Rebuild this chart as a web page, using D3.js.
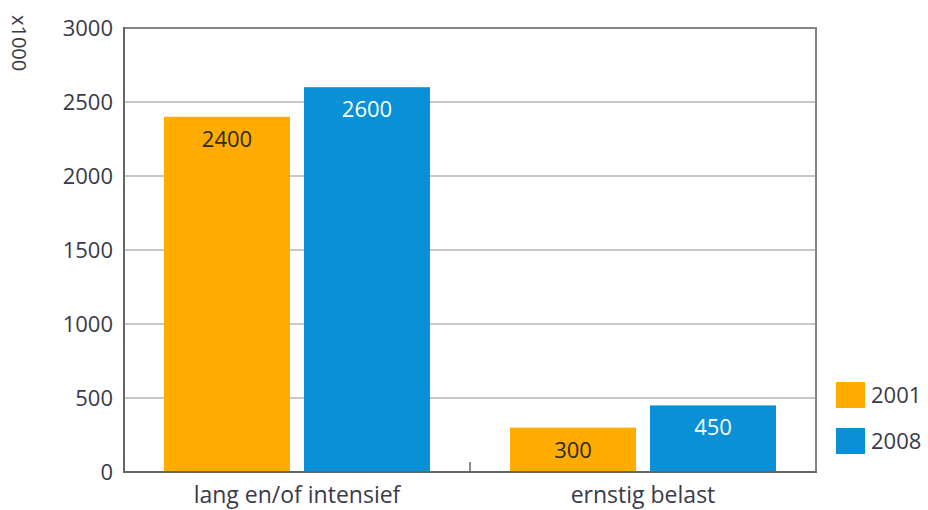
<!DOCTYPE html>
<html><head><meta charset="utf-8">
<script src="https://cdn.jsdelivr.net/npm/d3@7"></script>
<style>body{margin:0;background:#fff;} text{font-family:"Open Sans",sans-serif;}</style>
</head><body>
<svg id="c" width="928" height="510"></svg>
<script>
const categories = ["lang en/of intensief", "ernstig belast"];
const seriesNames = ["2001", "2008"];
const values2001 = [2400, 300];
const values2008 = [2600, 450];
const yTicks = [0, 500, 1000, 1500, 2000, 2500, 3000];
const colors = ["#FFAB00", "#0990D6"];
const labelColors = ["#2b2b20", "#ffffff"];

const svg = d3.select("#c");
const L = 124, R = 816, T = 28, B = 472;
const y = d3.scaleLinear().domain([0, 3000]).range([B, T]);
const x0 = d3.scaleBand().domain(categories).range([L, R]).paddingInner(0).paddingOuter(0);
const x1 = d3.scaleBand().domain(seriesNames).range([40, x0.bandwidth() - 40]).paddingInner(0.1);

// gridlines
svg.append("g").selectAll("line").data(yTicks.filter(d => d > 0 && d < 3000)).join("line")
  .attr("x1", L).attr("x2", R).attr("y1", d => y(d)).attr("y2", d => y(d))
  .attr("stroke", "#b5b5b5").attr("stroke-width", 1.5);

// top & right frame
svg.append("path").attr("d", `M${L},${T}H${R}V${B}`).attr("fill", "none")
  .attr("stroke", "#858585").attr("stroke-width", 2);

// bars
const data = categories.map((c, i) => ({c, vals: [values2001[i], values2008[i]]}));
const g = svg.append("g").selectAll("g").data(data).join("g")
  .attr("transform", d => `translate(${x0(d.c)},0)`);
g.selectAll("rect").data(d => d.vals.map((v, j) => ({v, s: seriesNames[j], j}))).join("rect")
  .attr("x", d => x1(d.s)).attr("width", x1.bandwidth())
  .attr("y", d => y(d.v)).attr("height", d => B - y(d.v))
  .attr("fill", d => colors[d.j]);
g.selectAll("text").data(d => d.vals.map((v, j) => ({v, s: seriesNames[j], j}))).join("text")
  .attr("x", d => x1(d.s) + x1.bandwidth() / 2).attr("y", d => y(d.v) + 30)
  .attr("text-anchor", "middle").attr("font-size", 22)
  .attr("fill", d => labelColors[d.j]).text(d => d.v);

// y axis
const ya = svg.append("g").attr("transform", `translate(${L},0)`)
  .call(d3.axisLeft(y).tickValues(yTicks).tickFormat(d3.format("d")).tickSize(0).tickPadding(11));
ya.select(".domain").remove();
ya.selectAll("text").attr("font-size", 22).attr("fill", "#3a3a48").attr("font-family", "Open Sans");
svg.append("line").attr("x1", L).attr("x2", L).attr("y1", T - 1).attr("y2", B + 1)
  .attr("stroke", "#666").attr("stroke-width", 2);

// x axis
const xa = svg.append("g").attr("transform", `translate(0,${B})`)
  .call(d3.axisBottom(x0).tickSize(0).tickPadding(15));
xa.select(".domain").remove();
xa.selectAll("text").attr("font-size", 23).attr("fill", "#3a3a48").attr("font-family", "Open Sans");
svg.append("line").attr("x1", L - 1).attr("x2", R + 1).attr("y1", B).attr("y2", B)
  .attr("stroke", "#666").attr("stroke-width", 2);
svg.append("line").attr("x1", x0(categories[1])).attr("x2", x0(categories[1]))
  .attr("y1", B).attr("y2", B - 10).attr("stroke", "#666").attr("stroke-width", 1.5);

// y label
svg.append("text").attr("transform", "translate(12,15) rotate(90)")
  .attr("font-size", 20).attr("fill", "#3a3a48").text("x1000");

// legend
const lg = svg.append("g").selectAll("g").data(seriesNames).join("g")
  .attr("transform", (d, i) => `translate(836,${382 + i * 46})`);
lg.append("rect").attr("width", 29).attr("height", 26).attr("fill", (d, i) => colors[i]);
lg.append("text").attr("x", 35).attr("y", 21).attr("font-size", 22)
  .attr("fill", "#3a3a48").text(d => d);
</script>
</body></html>
